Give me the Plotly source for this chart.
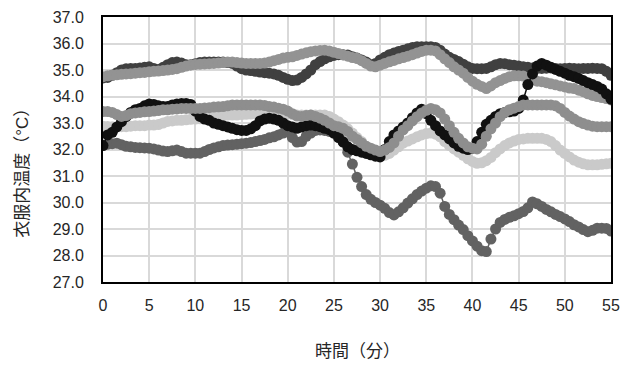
import plotly.graph_objects as go

# time in minutes (0.5-min steps)
time_min = [i * 0.5 for i in range(111)]

dark_gray = [34.70, 34.72, 34.80, 34.90, 35.00, 35.05, 35.06, 35.06, 35.08, 35.10,
             35.12, 35.06, 35.02, 35.10, 35.20, 35.28, 35.30, 35.26, 35.20, 35.20,
             35.24, 35.28, 35.30, 35.30, 35.30, 35.30, 35.30, 35.28, 35.25, 35.15,
             35.05, 35.00, 34.98, 34.95, 34.92, 34.90, 34.88, 34.85, 34.80, 34.72,
             34.65, 34.60, 34.62, 34.72, 34.85, 35.00, 35.20, 35.32, 35.42, 35.50,
             35.55, 35.58, 35.58, 35.57, 35.50, 35.45, 35.38, 35.30, 35.20, 35.25,
             35.38, 35.48, 35.58, 35.64, 35.70, 35.75, 35.80, 35.85, 35.88, 35.88,
             35.88, 35.88, 35.85, 35.75, 35.60, 35.48, 35.40, 35.32, 35.22, 35.12,
             35.06, 35.05, 35.05, 35.06, 35.12, 35.20, 35.25, 35.24, 35.20, 35.18,
             35.15, 35.12, 35.10, 35.08, 35.06, 35.06, 35.07, 35.08, 35.06, 35.05,
             35.06, 35.07, 35.06, 35.05, 35.06, 35.06, 35.07, 35.06, 35.05, 34.95,
             34.80]

mid_gray_upper = [34.75, 34.78, 34.81, 34.82, 34.84, 34.85, 34.86, 34.88, 34.90, 34.91,
                  34.93, 34.95, 34.96, 34.98, 35.00, 35.02, 35.05, 35.10, 35.15, 35.19,
                  35.21, 35.22, 35.23, 35.24, 35.25, 35.26, 35.28, 35.30, 35.30, 35.28,
                  35.26, 35.25, 35.25, 35.25, 35.25, 35.26, 35.30, 35.35, 35.40, 35.45,
                  35.48, 35.50, 35.55, 35.60, 35.65, 35.69, 35.72, 35.74, 35.75, 35.72,
                  35.67, 35.62, 35.57, 35.52, 35.47, 35.44, 35.35, 35.25, 35.15, 35.12,
                  35.18, 35.25, 35.31, 35.36, 35.42, 35.47, 35.52, 35.58, 35.64, 35.70,
                  35.75, 35.75, 35.72, 35.58, 35.42, 35.28, 35.12, 35.00, 34.88, 34.72,
                  34.58, 34.46, 34.38, 34.30, 34.40, 34.52, 34.60, 34.68, 34.75, 34.78,
                  34.78, 34.77, 34.70, 34.62, 34.58, 34.56, 34.52, 34.48, 34.44, 34.40,
                  34.36, 34.32, 34.30, 34.24, 34.18, 34.10, 34.04, 34.00, 33.96, 33.92,
                  33.87]

dim_gray = [32.17, 32.20, 32.22, 32.24, 32.18, 32.12, 32.10, 32.08, 32.07, 32.06,
            32.05, 32.02, 31.98, 31.94, 31.92, 31.95, 31.98, 31.92, 31.86, 31.86,
            31.86, 31.86, 31.92, 32.00, 32.06, 32.10, 32.15, 32.17, 32.18, 32.20,
            32.22, 32.24, 32.26, 32.30, 32.34, 32.38, 32.44, 32.48, 32.55, 32.62,
            32.67, 32.45, 32.28, 32.30, 32.50, 32.62, 32.72, 32.74, 32.72, 32.68,
            32.62, 32.55, 32.30, 31.90, 31.45, 30.95, 30.60, 30.30, 30.12, 30.00,
            29.90, 29.78, 29.62, 29.53, 29.65, 29.80, 29.98, 30.14, 30.30, 30.43,
            30.54, 30.63, 30.60, 30.35, 29.85, 29.55, 29.35, 29.15, 28.98, 28.75,
            28.55, 28.35, 28.18, 28.15, 28.62, 29.00, 29.25, 29.36, 29.44, 29.50,
            29.58, 29.66, 29.80, 30.02, 29.95, 29.85, 29.74, 29.65, 29.55, 29.47,
            29.38, 29.28, 29.16, 29.08, 28.98, 28.90, 28.95, 29.03, 29.03, 29.02,
            28.92]

light_gray = [32.88, 32.87, 32.86, 32.86, 32.86, 32.86, 32.88, 32.90, 32.90, 32.90,
              32.92, 32.92, 32.94, 33.00, 33.06, 33.08, 33.10, 33.10, 33.12, 33.14,
              33.15, 33.16, 33.18, 33.20, 33.22, 33.25, 33.28, 33.30, 33.30, 33.30,
              33.32, 33.33, 33.34, 33.35, 33.35, 33.35, 33.35, 33.35, 33.35, 33.35,
              33.35, 33.32, 33.30, 33.30, 33.30, 33.30, 33.30, 33.30, 33.30, 33.25,
              33.15, 33.05, 32.92, 32.78, 32.62, 32.45, 32.30, 32.12, 32.00, 31.88,
              31.80, 31.78, 31.85, 31.98, 32.10, 32.24, 32.32, 32.40, 32.48, 32.55,
              32.60, 32.62, 32.58, 32.48, 32.30, 32.15, 32.02, 31.90, 31.78, 31.65,
              31.55, 31.48, 31.50, 31.58, 31.70, 31.88, 32.02, 32.15, 32.25, 32.32,
              32.38, 32.40, 32.42, 32.42, 32.42, 32.42, 32.38, 32.30, 32.15, 31.98,
              31.85, 31.72, 31.60, 31.52, 31.46, 31.42, 31.42, 31.42, 31.44, 31.46,
              31.48]

black = [32.15, 32.55, 32.65, 32.85, 33.05, 33.24, 33.40, 33.50, 33.55, 33.65,
         33.72, 33.70, 33.65, 33.62, 33.62, 33.68, 33.72, 33.74, 33.74, 33.70,
         33.45, 33.25, 33.15, 33.10, 33.00, 32.95, 32.90, 32.85, 32.80, 32.75,
         32.72, 32.72, 32.78, 32.90, 33.08, 33.15, 33.18, 33.15, 33.10, 33.00,
         32.90, 32.85, 32.80, 32.85, 32.90, 32.92, 32.90, 32.86, 32.80, 32.75,
         32.62, 32.45, 32.28, 32.10, 32.00, 31.95, 31.90, 31.85, 31.80, 31.75,
         31.72, 32.00, 32.30, 32.55, 32.70, 32.85, 33.00, 33.20, 33.38, 33.52,
         33.35, 33.10, 32.90, 32.70, 32.55, 32.40, 32.25, 32.12, 32.05, 32.00,
         32.05, 32.30, 32.65, 32.95, 33.10, 33.25, 33.35, 33.40, 33.42, 33.45,
         33.55, 33.87, 34.45, 34.85, 35.15, 35.25, 35.18, 35.10, 35.02, 34.95,
         34.88, 34.80, 34.75, 34.68, 34.60, 34.52, 34.45, 34.38, 34.28, 34.10,
         33.90]

mid_gray_lower = [33.43, 33.43, 33.40, 33.32, 33.25, 33.28, 33.35, 33.38, 33.40, 33.42,
                  33.43, 33.45, 33.47, 33.50, 33.50, 33.52, 33.53, 33.55, 33.55, 33.55,
                  33.55, 33.55, 33.57, 33.58, 33.60, 33.61, 33.62, 33.65, 33.68, 33.68,
                  33.68, 33.68, 33.68, 33.68, 33.68, 33.66, 33.62, 33.60, 33.56, 33.52,
                  33.45, 33.35, 33.26, 33.25, 33.28, 33.30, 33.25, 33.18, 33.10, 33.00,
                  32.90, 32.86, 32.80, 32.68, 32.50, 32.38, 32.25, 32.12, 32.05, 31.98,
                  31.92, 31.98, 32.08, 32.25, 32.50, 32.74, 32.90, 33.08, 33.24, 33.38,
                  33.48, 33.55, 33.50, 33.38, 33.15, 32.90, 32.65, 32.42, 32.25, 32.10,
                  32.05, 32.02, 32.20, 32.50, 32.78, 33.00, 33.24, 33.40, 33.50, 33.56,
                  33.62, 33.68, 33.68, 33.68, 33.68, 33.68, 33.68, 33.68, 33.65, 33.55,
                  33.40, 33.26, 33.15, 33.05, 32.98, 32.92, 32.88, 32.86, 32.86, 32.86,
                  32.86]

series = [
    ("dark_gray", dark_gray, "#404040"),
    ("mid_gray_upper", mid_gray_upper, "#939393"),
    ("dim_gray", dim_gray, "#626262"),
    ("light_gray", light_gray, "#cacaca"),
    ("black", black, "#111111"),
    ("mid_gray_lower", mid_gray_lower, "#8e8e8e"),
]

x_ticks = [0, 5, 10, 15, 20, 25, 30, 35, 40, 45, 50, 55]
y_ticks = [27.0, 28.0, 29.0, 30.0, 31.0, 32.0, 33.0, 34.0, 35.0, 36.0, 37.0]

fig = go.Figure()
for name, vals, col in series:
    fig.add_trace(go.Scatter(
        x=time_min, y=vals, mode="lines+markers", name=name,
        line=dict(color=col, width=1.5),
        marker=dict(color=col, size=11, line=dict(width=0)),
        showlegend=False, cliponaxis=True,
    ))

# page body has an 8px default margin, so the figure is sized to fit the 630x365 window
font_fam = "Arial, 'Liberation Sans', 'Noto Sans CJK JP', sans-serif"
fig.update_layout(
    width=622, height=357,
    margin=dict(l=95, r=19, t=9, b=83),
    paper_bgcolor="white", plot_bgcolor="white",
    font=dict(family=font_fam, size=16, color="#262626"),
    xaxis=dict(range=[0, 55], tickvals=x_ticks, ticktext=[str(v) for v in x_ticks],
               showgrid=True, gridcolor="#d9d9d9", gridwidth=1.5,
               showline=True, linecolor="#000000", linewidth=2, mirror=True,
               zeroline=False, ticks="", ticklabelstandoff=8, automargin=False),
    yaxis=dict(range=[27, 37], tickvals=y_ticks, ticktext=[f"{v:.1f}" for v in y_ticks],
               showgrid=True, gridcolor="#d9d9d9", gridwidth=1.5,
               showline=True, linecolor="#000000", linewidth=2, mirror=True,
               zeroline=False, ticks="", ticklabelstandoff=14, automargin=False),
    annotations=[
        dict(text="時間（分）", xref="paper", yref="paper", x=0.5, y=-0.264,
             xanchor="center", yanchor="middle", showarrow=False,
             font=dict(size=17, color="#262626")),
        dict(text="衣服内温度（°C）", xref="paper", yref="paper", x=-0.159, y=0.428,
             xanchor="center", yanchor="middle", showarrow=False, textangle=-90,
             font=dict(size=17, color="#262626")),
    ],
)
fig.write_html("out.html")
